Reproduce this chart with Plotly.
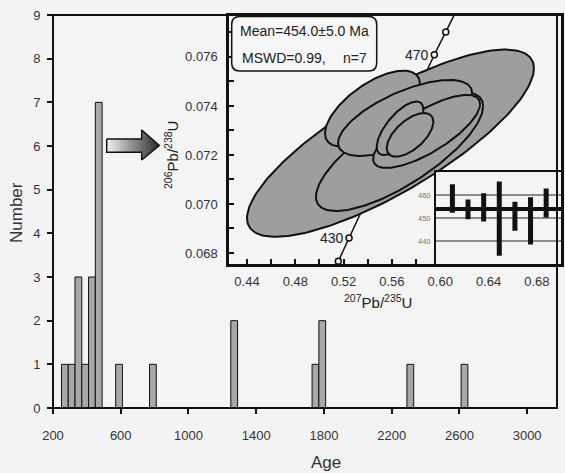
import numpy as np
import plotly.graph_objects as go

# ---------------- data ----------------
bin_start = [250, 290, 330, 370, 410, 450, 570, 770, 1250, 1730, 1770, 2290, 2610]
bin_count = [1, 1, 3, 1, 3, 7, 1, 1, 2, 1, 2, 1, 1]
bin_width = 40
age_ticks = [200, 600, 1000, 1400, 1800, 2200, 2600, 3000]

# concordia ellipses (centre, 2-sigma half extents, error correlation)
ell_x = [0.5588, 0.5663, 0.5439, 0.5709, 0.5887, 0.5667, 0.5750]
ell_xerr = [0.1188, 0.0692, 0.0393, 0.0555, 0.0443, 0.0193, 0.0193]
ell_y = [0.07248, 0.07214, 0.07389, 0.07351, 0.07296, 0.07309, 0.07282]
ell_yerr = [0.00382, 0.00243, 0.00155, 0.00155, 0.00149, 0.00109, 0.00089]
ell_rho = [0.80, 0.76, 0.65, 0.66, 0.75, 0.70, 0.60]

# concordia curve points
conc_age = [420, 425, 430, 470, 475, 480]
conc_x = [0.5067, 0.5156, 0.5245, 0.5951, 0.6046, 0.6140]
conc_y = [0.06682, 0.06766, 0.06861, 0.07609, 0.07702, 0.07795]
conc_marked = [425, 430, 470, 475]
conc_labelled = [430, 470]

# weighted mean panel
wm_pos = [1, 2, 3, 4, 5, 6, 7]
wm_age = [458.6, 453.8, 454.7, 449.8, 450.8, 448.8, 456.6]
wm_err = [6.2, 4.3, 6.2, 16.2, 6.3, 10.3, 6.3]
wm_mean = 454.0
wm_mean_err = 5.0
wm_mswd = 0.99
wm_n = 7

# ---------------- layout helpers ----------------
W, H = 565, 473
ML, MR, MT, MB = 53, 4, 15, 65
PW, PH = W - ML - MR, H - MT - MB
FONT = "Liberation Sans, Arial, sans-serif"


def pxx(px):
    return (px - ML) / PW


def pxy(py):
    return (H - MB - py) / PH


XR = [200, 3200]
YR = [0, 9]


def px2age(px):
    return XR[0] + (px - ML) / PW * (XR[1] - XR[0])


def py2num(py):
    return YR[0] + (H - MB - py) / PH * (YR[1] - YR[0])


fig = go.Figure()

# histogram bars
fig.add_trace(go.Bar(
    x=[s + bin_width / 2 for s in bin_start], y=bin_count, width=bin_width,
    marker=dict(color="#a8a8a8", line=dict(color="#111", width=1)),
    xaxis="x", yaxis="y", showlegend=False, hoverinfo="skip"))

# arrow (decoration)
arrow_px = [(106.7, 139), (141.7, 139), (141.7, 130), (159.3, 145.5),
            (141.7, 160), (141.7, 152.3), (106.7, 152.3), (106.7, 139)]
fig.add_trace(go.Scatter(
    x=[px2age(p[0]) for p in arrow_px], y=[py2num(p[1]) for p in arrow_px],
    mode="lines", fill="toself", line=dict(color="#111", width=1.5),
    fillgradient=dict(type="horizontal",
                      colorscale=[[0, "#f2f2f2"], [1, "#2a2a2a"]]),
    xaxis="x", yaxis="y", showlegend=False, hoverinfo="skip"))

# concordia line + markers
fig.add_trace(go.Scatter(
    x=conc_x, y=conc_y, mode="lines", line=dict(color="#111", width=1.5),
    xaxis="x3", yaxis="y3", showlegend=False, hoverinfo="skip"))
mk = [i for i, a in enumerate(conc_age) if a in conc_marked]
fig.add_trace(go.Scatter(
    x=[conc_x[i] for i in mk], y=[conc_y[i] for i in mk], mode="markers",
    marker=dict(symbol="circle", size=6, color="#f4f4f4",
                line=dict(color="#111", width=1.5)),
    xaxis="x3", yaxis="y3", showlegend=False, hoverinfo="skip"))

# ellipses
t = np.linspace(0, 2 * np.pi, 200)
for cx, ex, cy, ey, r in zip(ell_x, ell_xerr, ell_y, ell_yerr, ell_rho):
    xs = cx + ex * np.cos(t)
    ys = cy + ey * (r * np.cos(t) + np.sqrt(1 - r * r) * np.sin(t))
    fig.add_trace(go.Scatter(
        x=xs, y=ys, mode="lines", fill="toself", fillcolor="#9e9e9e",
        line=dict(color="#111", width=2), xaxis="x3", yaxis="y3",
        showlegend=False, hoverinfo="skip"))

# weighted mean bars
fig.add_trace(go.Bar(
    x=wm_pos, y=[2 * e for e in wm_err], base=[a - e for a, e in zip(wm_age, wm_err)],
    width=0.32, marker=dict(color="#111", line=dict(width=0)),
    xaxis="x4", yaxis="y4", showlegend=False, hoverinfo="skip"))
fig.add_trace(go.Scatter(
    x=[-0.05, 7.95], y=[wm_mean, wm_mean], mode="lines",
    line=dict(color="#111", width=4), xaxis="x4", yaxis="y4",
    showlegend=False, hoverinfo="skip"))

tickfont = dict(family=FONT, size=13, color="#333")

fig.update_layout(
    width=W, height=H,
    margin=dict(l=ML, r=MR, t=MT, b=MB, pad=0, autoexpand=False),
    paper_bgcolor="#f3f3f3", plot_bgcolor="#f4f4f4",
    font=dict(family=FONT, color="#333"),
    barmode="overlay", showlegend=False,
    xaxis=dict(domain=[0, 1], range=XR, anchor="y", showline=False, showgrid=False,
               zeroline=False, tickmode="array", tickvals=age_ticks,
               ticks="outside", ticklen=5, tickwidth=1.5, tickcolor="#111",
               tickfont=tickfont, ticklabelstandoff=10),
    xaxis2=dict(overlaying="x", range=XR, anchor="y", showline=False, showgrid=False,
                zeroline=False, tickmode="array", tickvals=age_ticks,
                ticks="inside", ticklen=5, tickwidth=1.5, tickcolor="#111",
                showticklabels=False,
                minor=dict(ticks="inside", ticklen=4, tickwidth=1.2, tickcolor="#111",
                           dtick=80, tick0=200, showgrid=False)),
    yaxis=dict(domain=[0, 1], range=YR, anchor="x", showline=False, showgrid=False,
               zeroline=False, dtick=1, tick0=0, ticks="outside", ticklen=5,
               tickwidth=1.5, tickcolor="#111", tickfont=tickfont,
               ticklabelstandoff=4),
    yaxis2=dict(overlaying="y", range=YR, anchor="x", showline=False, showgrid=False,
                zeroline=False, dtick=1, tick0=0, ticks="inside", ticklen=5,
                tickwidth=1.5, tickcolor="#111", showticklabels=False),
    xaxis3=dict(domain=[pxx(229), 1], range=[0.4251, 0.7000], anchor="y3",
                showline=True, mirror=True, linewidth=2.5, linecolor="#111",
                showgrid=False, zeroline=False, dtick=0.04, tick0=0.44,
                tickformat=".2f", ticks="inside", ticklen=5, tickwidth=1.5,
                tickcolor="#111", tickfont=tickfont, ticklabelstandoff=4,
                minor=dict(ticks="inside", ticklen=5, dtick=0.02, tick0=0.44,
                           tickwidth=1.5, tickcolor="#111")),
    yaxis3=dict(domain=[pxy(264), pxy(16)], range=[0.06755, 0.07767], anchor="x3",
                showline=True, mirror=True, linewidth=2.5, linecolor="#111",
                showgrid=False, zeroline=False, dtick=0.002, tick0=0.068,
                tickformat=".3f", ticks="inside", ticklen=5, tickwidth=1.5,
                tickcolor="#111", tickfont=tickfont, ticklabelstandoff=6,
                minor=dict(ticks="inside", ticklen=5, dtick=0.001, tick0=0.068,
                           tickwidth=1.5, tickcolor="#111")),
    xaxis4=dict(domain=[pxx(436), 1], range=[-0.05, 7.95], anchor="y4",
                showline=True, mirror=True, linewidth=2, linecolor="#111",
                showgrid=False, zeroline=False, showticklabels=False, ticks=""),
    yaxis4=dict(domain=[pxy(264), pxy(172.3)], range=[430, 470], anchor="x4",
                showline=True, mirror=True, linewidth=2, linecolor="#111",
                showgrid=True, gridcolor="#8c8c8c", gridwidth=1.5, zeroline=False,
                tickmode="array", tickvals=[440, 450, 460], ticks="",
                tickfont=dict(family=FONT, size=7.5, color="#777"),
                ticklabelstandoff=2),
)

# main frame
fig.add_shape(type="rect", xref="paper", yref="paper", x0=0, x1=pxx(557), y0=0, y1=1,
              line=dict(color="#111", width=2), fillcolor="rgba(0,0,0,0)", layer="above")

# rounded text box
bx0, bx1, by0, by1, rr = 231.7, 376.7, 16.5, 71, 8


def P(px, py):
    return f"{pxx(px):.5f},{pxy(py):.5f}"


path = (f"M {P(bx0 + rr, by0)} L {P(bx1 - rr, by0)} Q {P(bx1, by0)} {P(bx1, by0 + rr)} "
        f"L {P(bx1, by1 - rr)} Q {P(bx1, by1)} {P(bx1 - rr, by1)} "
        f"L {P(bx0 + rr, by1)} Q {P(bx0, by1)} {P(bx0, by1 - rr)} "
        f"L {P(bx0, by0 + rr)} Q {P(bx0, by0)} {P(bx0 + rr, by0)} Z")
fig.add_shape(type="path", xref="paper", yref="paper", path=path,
              line=dict(color="#111", width=1.5), fillcolor="#f6f6f6", layer="above")


def A(text, x, y, xref="paper", yref="paper", xanchor="center", size=14, angle=0,
      color="#222", xshift=0):
    return dict(text=text, x=x, y=y, xref=xref, yref=yref, xanchor=xanchor,
                yanchor="middle", showarrow=False, textangle=angle, xshift=xshift,
                font=dict(family=FONT, size=size, color=color))


ann = []
ann.append(A(f"Mean={wm_mean:.1f}±{wm_mean_err:.1f} Ma", pxx(304), pxy(31)))
ann.append(A(f"MSWD={wm_mswd:.2f},", pxx(240), pxy(58), xanchor="left"))
ann.append(A(f"n={wm_n}", pxx(369), pxy(58), xanchor="right"))
for a in conc_labelled:
    i = conc_age.index(a)
    ann.append(A(str(a), conc_x[i], conc_y[i], xref="x3", yref="y3",
                 xanchor="right", xshift=-3))
ann.append(A("Number", pxx(17), pxy(213), size=17, angle=-90, color="#333"))
ann.append(A("Age", pxx(326), pxy(462), size=17, color="#333"))
ann.append(A("<sup>206</sup>Pb/<sup>238</sup>U", pxx(171), pxy(155), size=15, angle=-90))
ann.append(A("<sup>207</sup>Pb/<sup>235</sup>U", pxx(378), pxy(301), size=15))
fig.update_layout(annotations=ann)

fig.write_html("out.html", config={"displayModeBar": False},
               post_script="document.body.style.margin='0px';document.body.style.padding='0px';")
